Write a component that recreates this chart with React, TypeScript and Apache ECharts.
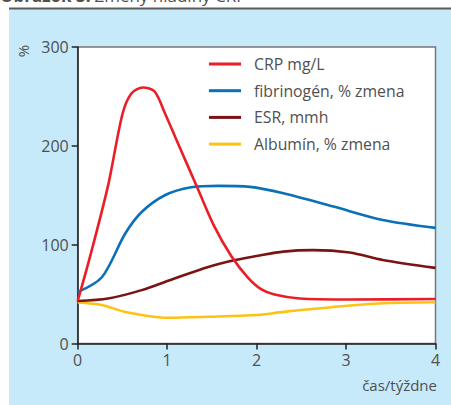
import React, { useEffect, useRef } from "react";
import * as echarts from "echarts";

const seriesNames = ["CRP mg/L", "fibrinogén, % zmena", "ESR, mmh", "Albumín, % zmena"];
const seriesColors = ["#e91e26", "#0a70b8", "#7b1315", "#fdc314"];

const crpData: [number, number][] = [
  [0, 43], [0.15, 92], [0.34, 160], [0.5, 232], [0.6, 253], [0.73, 259], [0.86, 255], [0.975, 233],
  [1.09, 209], [1.35, 155], [1.53, 118], [1.72, 88], [1.9, 67], [2.05, 55], [2.2, 49.5], [2.48, 45.5],
  [3.04, 44.5], [4, 45],
];
const fibData: [number, number][] = [
  [0, 52], [0.27, 67], [0.53, 111], [0.715, 133], [0.975, 150], [1.27, 158], [1.57, 159.5],
  [1.925, 158.5], [2.3, 152], [2.86, 138.5], [3.41, 125], [4, 117],
];
const esrData: [number, number][] = [
  [0, 43], [0.34, 45.5], [0.715, 54], [1.09, 66], [1.46, 77.5], [1.76, 84.5], [2.0, 88.5],
  [2.3, 93], [2.63, 94.5], [3.04, 92], [3.41, 84.5], [4, 76.5],
];
const albData: [number, number][] = [
  [0, 41.5], [0.27, 39], [0.53, 32], [1.01, 26], [1.46, 27], [2.0, 28.8], [2.3, 32],
  [2.86, 37], [3.41, 40.7], [4, 41.7],
];
const allData = [crpData, fibData, esrData, albData];

const yTicks = [0, 100, 200, 300];
const xTicks = [0, 1, 2, 3, 4];
const yUnit = "%";
const xUnit = "čas/týždne";
const titleBold = "Obrázok 3:";
const titleRest = " Zmeny hladiny CRP";

const FONT = "'Open Sans', 'Noto Sans', sans-serif";
const TXT = "#505050";

export default function App() {
  const ref = useRef<HTMLDivElement>(null);
  useEffect(() => {
    if (!ref.current) return;
    const chart = echarts.init(ref.current, undefined, { renderer: "svg" });
    chart.setOption({
      animation: false,
      backgroundColor: "#ffffff",
      textStyle: { fontFamily: FONT },
      graphic: [
        { type: "rect", z: -10, shape: { x: 9, y: 9, width: 442, height: 396 }, style: { fill: "#c6eaf9" } },
        { type: "rect", z: -9, shape: { x: 9, y: 7.5, width: 442, height: 2 }, style: { fill: "#5a5a5a" } },
        {
          type: "text", x: 0, y: 4, z: -9,
          style: { text: titleBold, fill: TXT, font: `bold 17px ${FONT}`, verticalAlign: "bottom", align: "left" },
        },
        {
          type: "text", x: 90, y: 4, z: -9,
          style: { text: titleRest, fill: TXT, font: `17px ${FONT}`, verticalAlign: "bottom", align: "left" },
        },
        {
          type: "text", x: 23, y: 51, rotation: Math.PI / 2,
          style: { text: yUnit, fill: TXT, font: `15px ${FONT}`, align: "center", verticalAlign: "middle" },
        },
        {
          type: "text", x: 437, y: 385,
          style: { text: xUnit, fill: TXT, font: `15px ${FONT}`, align: "right", verticalAlign: "middle" },
        },
      ],
      grid: {
        left: 77.7, right: 15.5, top: 47, bottom: 61.5,
        show: true, backgroundColor: "#ffffff", borderColor: "#777777", borderWidth: 1.5,
      },
      legend: {
        orient: "vertical", left: 204, top: 49,
        icon: "rect", itemWidth: 32, itemHeight: 3, itemGap: 6.7,
        data: seriesNames,
        textStyle: { color: TXT, fontSize: 15.8, fontFamily: FONT, lineHeight: 20, padding: [0, 0, 0, 8] },
      },
      xAxis: {
        type: "value", min: xTicks[0], max: xTicks[xTicks.length - 1], interval: 1,
        axisLine: { show: true, lineStyle: { color: "#222", width: 1.5 } },
        axisTick: { show: true, length: 6, lineStyle: { color: "#222", width: 1.5 } },
        axisLabel: { color: TXT, fontSize: 16, margin: 8, fontFamily: FONT },
        splitLine: { show: false },
      },
      yAxis: {
        type: "value", min: yTicks[0], max: yTicks[yTicks.length - 1], interval: 100,
        axisLine: { show: true, lineStyle: { color: "#222", width: 1.5 } },
        axisTick: { show: true, length: 6, lineStyle: { color: "#222", width: 1.5 } },
        axisLabel: { color: TXT, fontSize: 16, margin: 9, fontFamily: FONT },
        splitLine: { show: false },
      },
      series: seriesNames.map((name, i) => ({
        name, type: "line", data: allData[i], smooth: 0.3, showSymbol: false, symbol: "none",
        lineStyle: { color: seriesColors[i], width: 2.6 }, itemStyle: { color: seriesColors[i] },
        z: 4 - i,
      })),
    });
    return () => chart.dispose();
  }, []);
  return <div ref={ref} style={{ position: "fixed", left: 0, top: 0, width: 451, height: 405 }} />;
}
